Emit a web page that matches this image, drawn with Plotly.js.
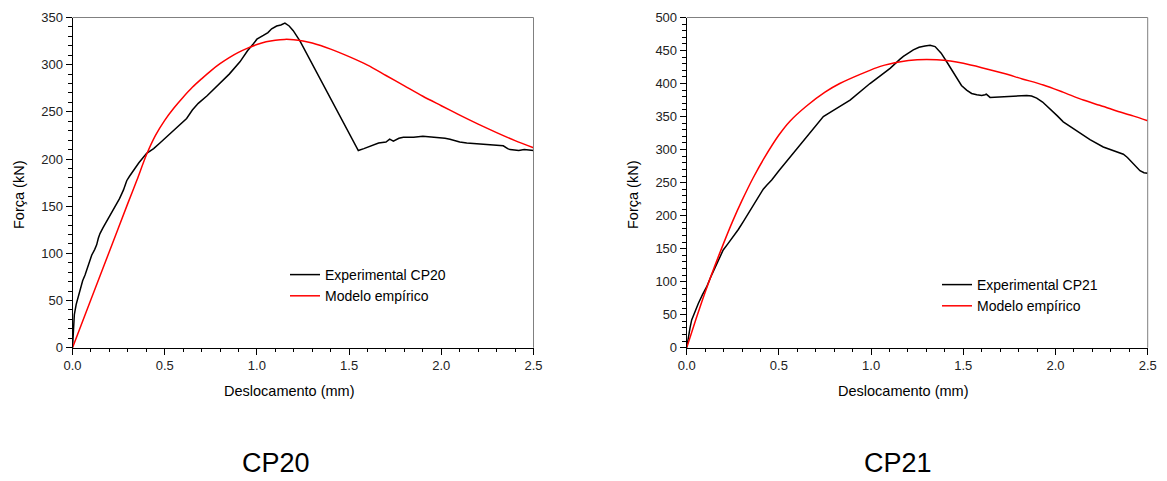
<!DOCTYPE html>
<html>
<head>
<meta charset="utf-8">
<script src="https://cdn.plot.ly/plotly-3.0.1.min.js"></script>
<style>html,body{margin:0;padding:0;background:#fff;}#chart{width:1167px;height:481px;}</style>
</head>
<body>
<div id="chart"></div>
<script>
// ---- data ----
const cp20ExpX = [0,0.002,0.004,0.01,0.02,0.031,0.045,0.055,0.068,0.085,0.104,0.12,0.131,0.14,0.149,0.165,0.185,0.21,0.23,0.255,0.276,0.294,0.31,0.33,0.36,0.402,0.44,0.474,0.52,0.57,0.619,0.65,0.682,0.73,0.782,0.85,0.908,0.95,0.98,1.0,1.035,1.06,1.08,1.107,1.13,1.152,1.175,1.197,1.234,1.3,1.4,1.5,1.55,1.58,1.631,1.66,1.7,1.72,1.74,1.77,1.794,1.85,1.9,1.975,2.02,2.047,2.1,2.138,2.2,2.25,2.3,2.336,2.36,2.373,2.42,2.45,2.5];
const cp20ExpY = [0,10,22,35,46,54,63,71,77,88,98,104,109,116,121,127,134,142,150,158,167,177,182,188,196,206,211,217,225,234,243,252,259,267,277,290,303,315,322,327,331,334,338,341,342,344,341,336,325,301,264,227,209,211,215,217,218,221,219,222,223,223,224,223,222,221,218,217,216,215,214,214,211,210,209,210,209];
const cp20ModX = [0,0.1,0.2,0.3,0.35,0.4,0.45,0.5,0.55,0.6,0.65,0.7,0.75,0.8,0.85,0.9,0.95,1.0,1.05,1.1,1.15,1.2,1.25,1.3,1.4,1.5,1.6,1.7,1.8,1.9,2.0,2.1,2.2,2.3,2.4,2.5];
const cp20ModY = [0,51,102,153,178,204,225,241,254,265.5,276,285,293.5,301,307.5,313,317.5,321.3,324.2,326,326.8,326.5,325.2,323,316.5,308.5,299.5,288.5,277.5,266.5,256.5,246.5,237,228,219.5,212];

const cp21ExpX = [0,0.004,0.009,0.018,0.027,0.045,0.063,0.085,0.108,0.135,0.163,0.198,0.225,0.253,0.28,0.307,0.343,0.38,0.415,0.434,0.461,0.5,0.55,0.614,0.65,0.687,0.741,0.8,0.886,0.994,1.05,1.103,1.157,1.175,1.229,1.26,1.292,1.32,1.347,1.38,1.41,1.44,1.464,1.49,1.518,1.545,1.573,1.6,1.618,1.625,1.645,1.7,1.753,1.8,1.844,1.87,1.898,1.93,1.97,2.01,2.042,2.079,2.13,2.187,2.259,2.3,2.368,2.39,2.404,2.43,2.458,2.48,2.5];
const cp21ExpY = [0,8,17,30,42,56,67,80,92,110,128,148,158,168,179,191,208,224,240,246,254,268,285,307,319,332,350,360,375,400,412,423,437,441,451,455,457,458,456,446,433,419,408,397,390,385,383,382,383,384,379,380,380,381,382,381,378,372,362,351,342,335,325,315,304,300,293,288,284,276,268,265,264];
const cp21ModX = [0,0.05,0.1,0.15,0.2,0.25,0.3,0.36,0.42,0.5,0.56,0.65,0.75,0.83,0.95,1.05,1.16,1.25,1.3,1.356,1.43,1.5,1.6,1.717,1.82,1.934,2.04,2.151,2.24,2.332,2.42,2.5];
const cp21ModY = [0,43,84,122,158,192,223,257,287,322,343,366,387,400,415,426,433,436,436.5,436,434,430.6,424,415.5,407,397.8,387,375,367,358.4,351,343.7];

const xTickVals = [0,0.5,1.0,1.5,2.0,2.5];
const xTickText = ['0.0','0.5','1.0','1.5','2.0','2.5'];
const names20 = ['Experimental CP20','Modelo empírico'];
const names21 = ['Experimental CP21','Modelo empírico'];
const panelLabels = ['CP20','CP21'];
const xTitle = 'Deslocamento (mm)';
const yTitle = 'Força (kN)';

// ---- layout helpers ----
const W = 1167, H = 481;
const px = v => v / W;
const py = v => 1 - v / H;
const FONT = 'Liberation Sans, Arial, sans-serif';

const traces = [
  {x: cp20ExpX, y: cp20ExpY, name: names20[0], type:'scatter', mode:'lines', line:{color:'#000', width:1.5}, xaxis:'x', yaxis:'y', legend:'legend'},
  {x: cp20ModX, y: cp20ModY, name: names20[1], type:'scatter', mode:'lines', line:{color:'#ff0000', width:1.5, shape:'spline', smoothing:0.8}, xaxis:'x', yaxis:'y', legend:'legend'},
  {x: cp21ExpX, y: cp21ExpY, name: names21[0], type:'scatter', mode:'lines', line:{color:'#000', width:1.5}, xaxis:'x2', yaxis:'y2', legend:'legend2'},
  {x: cp21ModX, y: cp21ModY, name: names21[1], type:'scatter', mode:'lines', line:{color:'#ff0000', width:1.5, shape:'spline', smoothing:0.8}, xaxis:'x2', yaxis:'y2', legend:'legend2'}
];

function xAx(domain, anchor){
  return {domain, anchor, range:[0,2.5], tickvals:xTickVals, ticktext:xTickText,
    showline:true, linecolor:'#000', linewidth:1, ticks:'outside', ticklen:6, tickcolor:'#000', tickwidth:1,
    minor:{dtick:0.1, tick0:0, ticks:'outside', ticklen:3.5, tickcolor:'#000', tickwidth:1},
    showgrid:false, zeroline:false, tickfont:{family:FONT, size:13, color:'#222'}, fixedrange:true};
}
function yAx(domain, anchor, max){
  return {domain, anchor, range:[0,max], dtick:50, tick0:0,
    showline:true, linecolor:'#000', linewidth:1, ticks:'outside', ticklen:6, tickcolor:'#000', tickwidth:1,
    minor:{dtick:10, tick0:0, ticks:'outside', ticklen:3.5, tickcolor:'#000', tickwidth:1},
    showgrid:false, zeroline:false, tickfont:{family:FONT, size:13, color:'#222'}, fixedrange:true};
}
function ann(x, y, text, size, angle, yanchor){
  const a = {xref:'paper', yref:'paper', x:px(x), y:py(y), xanchor:'center', yanchor:yanchor || 'middle', text, showarrow:false, font:{family:FONT, size, color:'#000'}};
  if (angle) a.textangle = angle;
  return a;
}
const yDom = [py(347.7), py(17.5)];
const layout = {
  width:W, height:H, margin:{l:0,r:0,t:0,b:0}, paper_bgcolor:'#fff', plot_bgcolor:'#fff',
  font:{family:FONT, color:'#000'},
  xaxis: xAx([px(72.5), px(533.5)], 'y'),
  yaxis: yAx(yDom, 'x', 350),
  xaxis2: xAx([px(686.7), px(1147.7)], 'y2'),
  yaxis2: yAx(yDom, 'x2', 500),
  legend: {x:px(285), y:py(259), xanchor:'left', yanchor:'top', bgcolor:'rgba(0,0,0,0)', borderwidth:0, font:{family:FONT, size:14, color:'#000'}, tracegroupgap:0},
  legend2: {x:px(937), y:py(269), xanchor:'left', yanchor:'top', bgcolor:'rgba(0,0,0,0)', borderwidth:0, font:{family:FONT, size:14, color:'#000'}, tracegroupgap:0},
  shapes: [
    {type:'line', xref:'x domain', yref:'y domain', x0:0, x1:1, y0:1, y1:1, line:{color:'#808080', width:1}},
    {type:'line', xref:'x domain', yref:'y domain', x0:1, x1:1, y0:0, y1:1, line:{color:'#808080', width:1}},
    {type:'line', xref:'x2 domain', yref:'y2 domain', x0:0, x1:1, y0:1, y1:1, line:{color:'#808080', width:1}},
    {type:'line', xref:'x2 domain', yref:'y2 domain', x0:1, x1:1, y0:0, y1:1, line:{color:'#808080', width:1}}
  ],
  annotations: [
    ann(289, 391, xTitle, 14.5),
    ann(903, 391, xTitle, 14.5),
    ann(19, 195, yTitle, 14.5, -90),
    ann(633, 195, yTitle, 14.5, -90),
    ann(276, 480, panelLabels[0], 27, 0, 'bottom'),
    ann(898, 480, panelLabels[1], 27, 0, 'bottom')
  ]
};
Plotly.newPlot('chart', traces, layout, {displayModeBar:false, staticPlot:true});
</script>
</body>
</html>
